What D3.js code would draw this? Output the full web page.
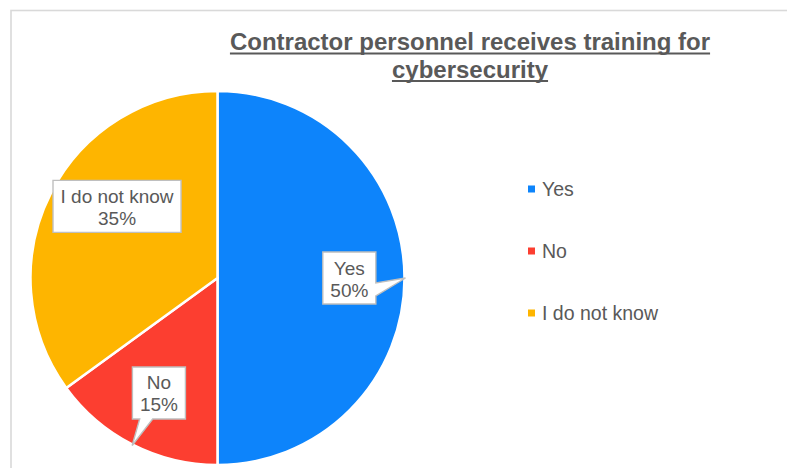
<!DOCTYPE html>
<html lang="en">
<head>
<meta charset="UTF-8">
<title>Contractor personnel cybersecurity training</title>
<script src="https://d3js.org/d3.v7.min.js"></script>
<style>
    body { margin: 0; background: #fff; }
    text { font-family: "Liberation Sans", Arial, sans-serif; fill: #595959; }
</style>
</head>
<body>
<svg width="787" height="468"></svg>
<script>
    // chart data
    const categories = ["Yes", "No", "I do not know"];
    const shares = [50, 15, 35];
    const colours = ["#0d84fb", "#fc3e30", "#feb500"];
    const titleLines = ["Contractor personnel receives training for", "cybersecurity"];

    // where excel left the callouts (fraction of radius, angle shift in degrees, tail or not)
    const labelLayout = [
        {k: 0.705, shift: 0, tail: true},
        {k: 0.69, shift: 0, tail: true},
        {k: 0.66, shift: 8.5, tail: false}
    ];

    const svg = d3.select("svg");
    const cx = 217.5, cy = 278, R = 187;

    // frame of the chart area
    svg.append("rect")
        .attr("x", 11).attr("y", 10.5)
        .attr("width", 800).attr("height", 500)
        .attr("fill", "none")
        .attr("stroke", "#d9d9d9")
        .attr("stroke-width", 1.6);

    // title, bold and underlined
    const title = svg.append("g");
    titleLines.forEach(function (line, i) {
        let y = 50 + i * 27.5;
        let t = title.append("text")
            .attr("x", 470).attr("y", y)
            .attr("text-anchor", "middle")
            .attr("font-size", "24px")
            .attr("font-weight", "bold")
            .text(line);
        let w = t.node().getComputedTextLength();
        title.append("line")
            .attr("x1", 470 - w / 2).attr("x2", 470 + w / 2)
            .attr("y1", y + 3.5).attr("y2", y + 3.5)
            .attr("stroke", "#595959")
            .attr("stroke-width", 1.8);
    });

    const data = categories.map(function (c, i) {
        return {name: c, value: shares[i], colour: colours[i], layout: labelLayout[i]};
    });

    const pie = d3.pie().sort(null).value(d => d.value);
    const arc = d3.arc().innerRadius(0).outerRadius(R);
    const arcs = pie(data);

    const g = svg.append("g").attr("transform", `translate(${cx},${cy})`);

    g.selectAll("path.slice")
        .data(arcs)
        .enter()
        .append("path")
        .attr("class", "slice")
        .attr("d", arc)
        .attr("fill", d => d.data.colour)
        .attr("stroke", "#fff")
        .attr("stroke-width", 2.5)
        .attr("stroke-linejoin", "round");

    // callout labels
    const lineH = 22, padX = 7.5, boxH = 52;
    arcs.forEach(function (a) {
        let mid = (a.startAngle + a.endAngle) / 2;
        let lay = a.data.layout;
        let ang = mid + lay.shift * Math.PI / 180;
        let lx = Math.sin(ang) * R * lay.k;
        let ly = -Math.cos(ang) * R * lay.k;

        let lab = g.append("g");
        let t1 = lab.append("text")
            .attr("x", lx).attr("y", ly - 3.5)
            .attr("text-anchor", "middle")
            .attr("font-size", "19px")
            .text(a.data.name);
        let t2 = lab.append("text")
            .attr("x", lx).attr("y", ly - 3.5 + lineH)
            .attr("text-anchor", "middle")
            .attr("font-size", "19px")
            .text(a.data.value + "%");
        let w = Math.max(t1.node().getComputedTextLength(), t2.node().getComputedTextLength()) + padX * 2;

        let x0 = lx - w / 2, x1 = lx + w / 2, y0 = ly - boxH / 2, y1 = ly + boxH / 2;
        let pts;
        if (lay.tail) {
            let tx = Math.sin(mid) * (R + 1), ty = -Math.cos(mid) * (R + 1);
            let hw = 6.5;
            if (tx > x1) {
                let c = ty < ly ? y0 + 0.28 * boxH : y1 - 0.28 * boxH;
                pts = [[x0, y0], [x1, y0], [x1, c - hw], [tx, ty], [x1, c + hw], [x1, y1], [x0, y1]];
            } else if (ty > y1) {
                let c = tx < lx ? x0 + 0.26 * w : x1 - 0.26 * w;
                pts = [[x0, y0], [x1, y0], [x1, y1], [c + hw, y1], [tx, ty], [c - hw, y1], [x0, y1]];
            } else if (tx < x0) {
                let c = ty < ly ? y0 + 0.28 * boxH : y1 - 0.28 * boxH;
                pts = [[x0, y0], [x1, y0], [x1, y1], [x0, y1], [x0, c + hw], [tx, ty], [x0, c - hw]];
            } else {
                let c = tx < lx ? x0 + 0.26 * w : x1 - 0.26 * w;
                pts = [[x0, y0], [c - hw, y0], [tx, ty], [c + hw, y0], [x1, y0], [x1, y1], [x0, y1]];
            }
        } else {
            pts = [[x0, y0], [x1, y0], [x1, y1], [x0, y1]];
        }
        lab.insert("path", "text")
            .attr("d", d3.line()(pts) + "Z")
            .attr("fill", "#fff")
            .attr("stroke", "#bfbfbf")
            .attr("stroke-width", 1.4)
            .attr("stroke-linejoin", "miter");
    });

    // legend
    const legend = svg.append("g").attr("transform", "translate(528,189)");
    const item = legend.selectAll("g")
        .data(data)
        .enter()
        .append("g")
        .attr("transform", (d, i) => `translate(0,${i * 62})`);
    item.append("rect")
        .attr("x", 0).attr("y", -3.5)
        .attr("width", 7).attr("height", 7)
        .attr("fill", d => d.colour);
    item.append("text")
        .attr("x", 14).attr("y", 6.8)
        .attr("font-size", "19.5px")
        .text(d => d.name);
</script>
</body>
</html>
